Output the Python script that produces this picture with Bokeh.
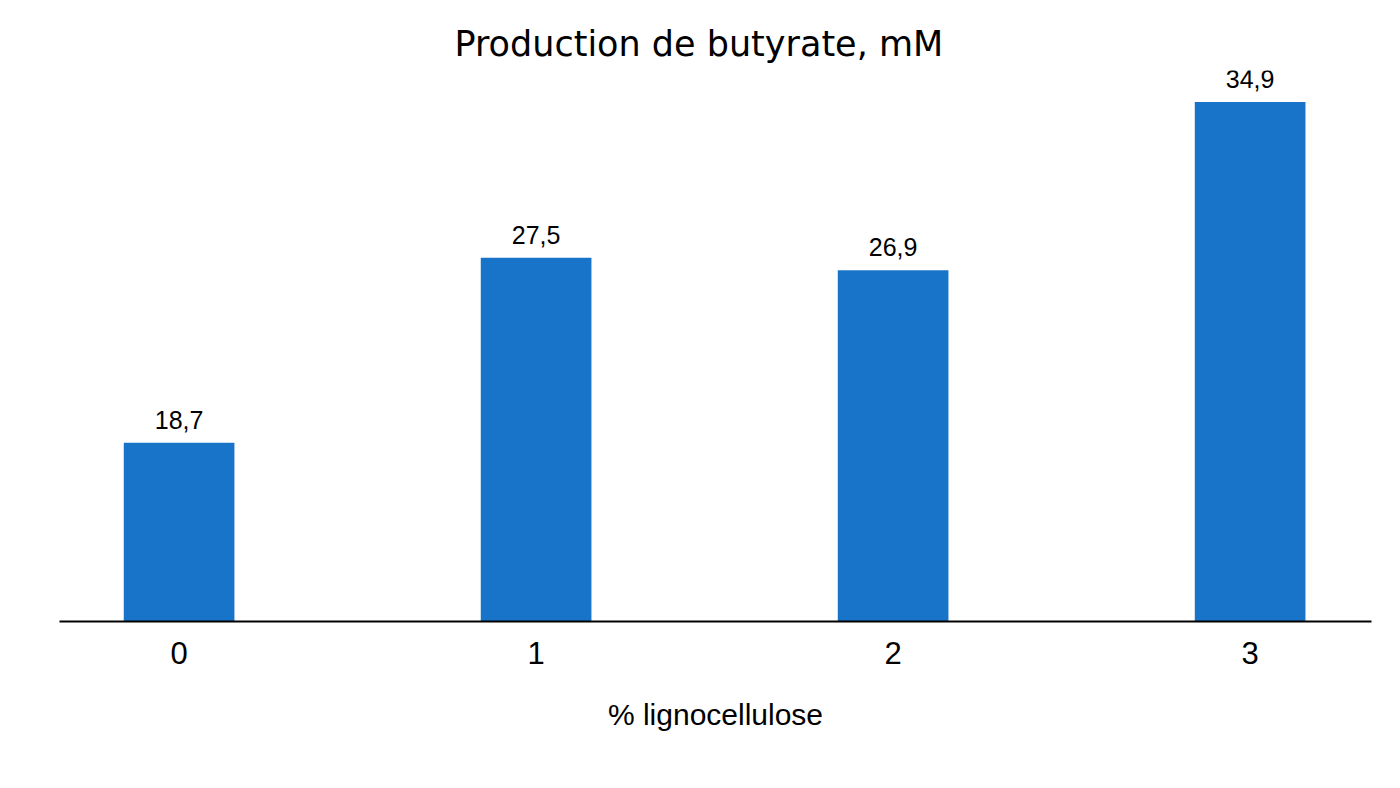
from bokeh.plotting import figure
from bokeh.models import ColumnDataSource, Range1d, FixedTicker
from bokeh.core.properties import value
from bokeh.embed import file_html
from bokeh.resources import INLINE

# data
categories = [0, 1, 2, 3]
butyrate = [18.7, 27.5, 26.9, 34.9]
labels = ["18,7", "27,5", "26,9", "34,9"]
tick_labels = ["0", "1", "2", "3"]

Y_START = 10.2
BAR_COLOR = "#1874C8"

src = ColumnDataSource(dict(x=categories, top=butyrate, lab=labels))

p = figure(width=1384, height=770, output_backend="svg", toolbar_location=None,
           x_range=Range1d(-0.335, 3.34), y_range=Range1d(Y_START, 36.4),
           min_border_left=59, min_border_right=13, min_border_top=70,
           min_border_bottom=149, title="Production de butyrate, mM")

p.vbar(x="x", top="top", bottom=Y_START, width=0.31, source=src,
       fill_color=BAR_COLOR, line_color=None)
p.text(x="x", y="top", text="lab", source=src, text_align="center",
       text_baseline="bottom", y_offset=-14, text_font=value("Liberation Sans"),
       text_font_size="25px", text_color="black")

p.title.align = "left"
p.title.offset = 395
p.title.standoff = 14
p.title.text_font = "DejaVu Sans"
p.title.text_font_size = "35px"
p.title.text_font_style = "normal"
p.title.text_color = "black"

p.yaxis.visible = False
p.grid.visible = False
p.outline_line_color = None

ax = p.xaxis[0]
ax.ticker = FixedTicker(ticks=categories)
ax.major_label_overrides = {c: t for c, t in zip(categories, tick_labels)}
ax.axis_line_color = "black"
ax.axis_line_width = 2
ax.major_tick_line_color = None
ax.minor_tick_line_color = None
ax.major_label_text_font = "Liberation Sans"
ax.major_label_text_font_size = "31px"
ax.major_label_text_color = "black"
ax.major_label_standoff = 14
ax.axis_label = "% lignocellulose"
ax.axis_label_text_font = "Liberation Sans"
ax.axis_label_text_font_size = "30px"
ax.axis_label_text_font_style = "normal"
ax.axis_label_text_color = "black"
ax.axis_label_standoff = 31

open("out.html", "w").write(file_html(p, INLINE))
